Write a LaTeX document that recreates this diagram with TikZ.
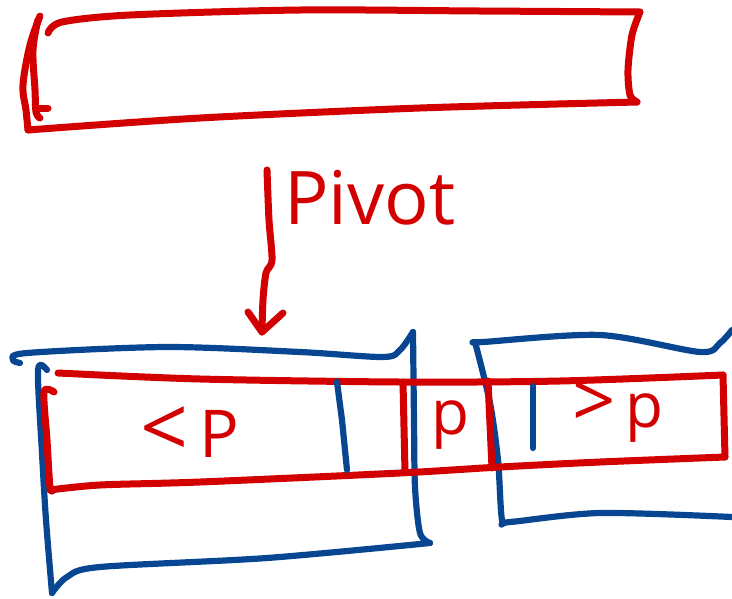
\documentclass[tikz,border=0pt]{standalone}
\usepackage{fontspec}
\setmainfont{Open Sans}
\newcommand\bigsym[2]{{\fontsize{#1}{#1}\selectfont #2}}
\begin{document}
\begin{tikzpicture}[x=1pt,y=-1pt,
  ink/.style={line width=7pt,line cap=round,line join=round},
  redink/.style={ink,draw=penred},
  blueink/.style={ink,line width=6.2pt,draw=penblue},
  hand/.style={text=penred,inner sep=0pt,font=\fontsize{#1}{#1}\selectfont},
  hand/.default=56]
\definecolor{penred}{RGB}{210,0,0}
\definecolor{penblue}{RGB}{8,70,146}
\useasboundingbox (0,0) rectangle (732,598);

% --- the whole array (top) ---
\draw[redink] plot[smooth,tension=0.5] coordinates
  {(48,33) (62,22) (130,15) (300,10) (480,11) (640,12)};
\draw[redink] plot[smooth,tension=0.5] coordinates
  {(640,12) (632,35) (628,70) (630,95) (637,102)};
\draw[redink] plot[smooth,tension=0.5] coordinates
  {(637,102) (420,108) (200,118) (28,130)};
\draw[redink] plot[smooth,tension=0.6] coordinates
  {(28,130) (26,110) (23,85) (30,45) (40,16)};
\draw[redink] plot[smooth,tension=0.6] coordinates
  {(38,20) (33,50) (35,90) (36,112) (40,118)};
\draw[redink] (38,108) -- (48,108);

% --- pivot arrow and label ---
\coordinate (top) at (267,170);
\coordinate (tip) at (262,332);
\draw[redink] plot[smooth,tension=0.5] coordinates
  {(top) (269,220) (272,260) (266,273) (263,300) (tip)};
\draw[redink] (248,312) -- (tip) -- (283,313);
\node[hand=74,anchor=west] (pivot) at (284,198) {Pivot};

% --- left partition box (blue) ---
\draw[blueink] plot[smooth,tension=0.5] coordinates
  {(20,363) (13,360) (27,353) (167,347) (300,352) (383,357) (400,350) (413,332)};
\draw[blueink] plot[smooth,tension=0.5] coordinates
  {(413,332) (414,420) (415,487) (420,533) (430,543)};
\draw[blueink] plot[smooth,tension=0.5] coordinates
  {(430,543) (267,558) (100,567) (67,577) (52,593)};
\draw[blueink] plot[smooth,tension=0.5] coordinates
  {(52,593) (46,520) (42,453) (38,370) (47,370)};

% --- right partition box (blue) ---
\draw[blueink] plot[smooth,tension=0.5] coordinates
  {(475,342) (483,342) (600,335) (700,352) (720,343) (732,330)};
\draw[blueink] plot[smooth,tension=0.5] coordinates
  {(475,342) (490,403) (498,460) (502,520) (510,522) (600,513) (732,517)};

% --- partitioned array (red) ---
\draw[redink] plot[smooth,tension=0.5] coordinates
  {(58,373) (200,379) (400,382) (560,381) (723,375)};
\draw[redink] (723,375) -- (725,457);
\draw[redink] plot[smooth,tension=0.5] coordinates
  {(725,457) (600,462) (500,467) (400,473) (200,482) (100,485) (50,490)};
\draw[redink] plot[smooth,tension=0.5] coordinates
  {(54,392) (44,392) (47,440) (50,487) (53,490)};
\draw[redink] (403,382) -- (405,472);
\draw[redink] (488,381) -- (492,468);

% --- blue dividers ---
\draw[blueink] (337,382) -- (342,420) -- (347,470);
\draw[blueink] (533,386) -- (533,448);

% --- labels ---
\node[hand=66] (lt) at (190,432) {\bigsym{84}{<}\,P};
\node[hand=62] (eq) at (450,425) {p};
\node[hand=62] (gt) at (618,412) {\bigsym{76}{>}\,p};
\end{tikzpicture}
\end{document}
